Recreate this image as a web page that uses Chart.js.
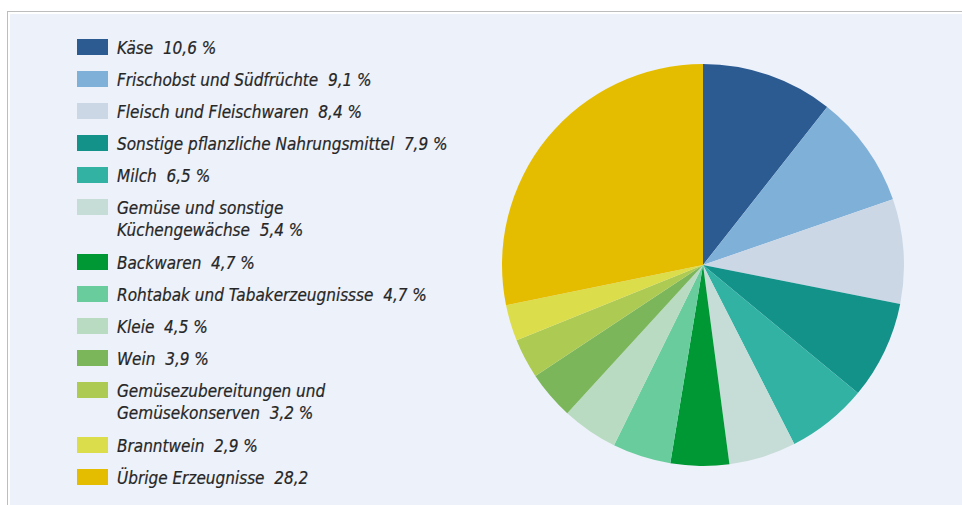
<!DOCTYPE html>
<html><head><meta charset="utf-8">
<script src="https://cdn.jsdelivr.net/npm/chart.js@4/dist/chart.umd.min.js"></script>
<style>
html,body{margin:0;padding:0;background:#fff;width:962px;height:505px;overflow:hidden;}
#frame{position:absolute;left:7px;top:11px;width:960px;height:500px;border-left:1px solid #bdbdbd;border-top:1px solid #bdbdbd;}
#panel{position:absolute;left:10px;top:14px;width:960px;height:500px;background:#edf1f9;}
#legend{position:absolute;left:0;top:0;font-family:"DejaVu Sans Condensed","DejaVu Sans",sans-serif;font-style:italic;font-size:17px;color:#262626;-webkit-text-stroke:0.2px #262626;}
.item{position:absolute;left:77px;white-space:pre;}
.box{position:absolute;left:0;width:31px;height:16px;}
.txt{position:absolute;left:40px;line-height:22px;}
#wrap{position:absolute;left:502px;top:64px;width:402px;height:402px;}
</style></head>
<body>
<div id="frame"></div>
<div id="panel"></div>
<div id="legend"></div>
<div id="wrap"><canvas id="c" width="402" height="402"></canvas></div>
<script>
const categories = ["Käse","Frischobst und Südfrüchte","Fleisch und Fleischwaren","Sonstige pflanzliche Nahrungsmittel","Milch","Gemüse und sonstige\nKüchengewächse","Backwaren","Rohtabak und Tabakerzeugnissse","Kleie","Wein","Gemüsezubereitungen und\nGemüsekonserven","Branntwein","Übrige Erzeugnisse"];
const shares = [10.6,9.1,8.4,7.9,6.5,5.4,4.7,4.7,4.5,3.9,3.2,2.9,28.2];
const valueLabels = ["10,6 %","9,1 %","8,4 %","7,9 %","6,5 %","5,4 %","4,7 %","4,7 %","4,5 %","3,9 %","3,2 %","2,9 %","28,2"];
const colors = ["#2c5b92","#7fb0d8","#cbd7e5","#13928a","#31b2a3","#c6dcd7","#009834","#68cc9c","#b9dbc1","#7bb65b","#adcb52","#dcdd4a","#e5bd00"];

// legend (HTML, built from the arrays)
const legend = document.getElementById('legend');
let y = 39;
categories.forEach((name, i) => {
  const lines = name.split('\n');
  const it = document.createElement('div');
  it.className = 'item';
  it.style.top = y + 'px';
  const b = document.createElement('div');
  b.className = 'box'; b.style.background = colors[i];
  const t = document.createElement('div');
  t.className = 'txt'; t.style.top = '-2px';
  t.textContent = lines.join('\n') + '  ' + valueLabels[i];
  it.appendChild(b); it.appendChild(t);
  legend.appendChild(it);
  y += 32 + (lines.length - 1) * 23;
});

new Chart(document.getElementById('c'), {
  type: 'pie',
  data: { labels: categories, datasets: [{ data: shares, backgroundColor: colors, borderWidth: 0 }] },
  options: {
    responsive: false, animation: false,
    layout: { padding: 0 },
    plugins: { legend: { display: false }, tooltip: { enabled: false } }
  }
});
</script>
</body></html>
